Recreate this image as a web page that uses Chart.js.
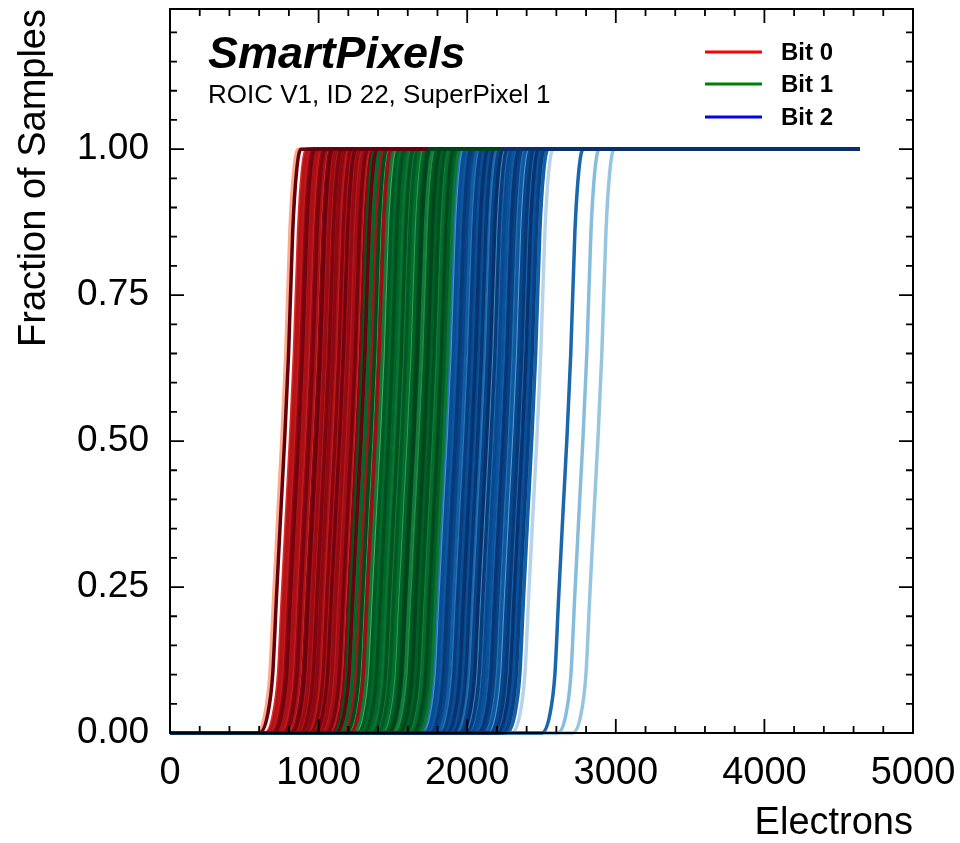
<!DOCTYPE html>
<html>
<head>
<meta charset="utf-8">
<script src="https://cdn.jsdelivr.net/npm/chart.js@4.4.1/dist/chart.umd.min.js"></script>
<style>
html, body { margin: 0; padding: 0; background: #fff; }
</style>
</head>
<body>
<canvas id="myChart" width="960" height="843"></canvas>
<script>
// --- data ---
var bitNames = ['Bit 0', 'Bit 1', 'Bit 2'];
// 50% points (electrons) of each pixel's s-curve, in drawing order
var bit0Thresholds = [752, 1010, 905, 1180, 860, 1090, 960, 1240, 830, 1120,
                      990, 880, 1296, 1050, 920, 1150, 810, 1210, 1030, 940,
                      1270, 870, 1100, 980, 1190, 840, 1060, 1130, 900, 1230,
                      1000, 820, 1160, 950, 1080, 1330, 890, 1040, 1200, 1380,
                      1015, 925, 1170, 855, 1070, 975, 1255, 1110, 1045, 935,
                      1220, 865, 1140, 985, 1285, 771];
var bit1Thresholds = [2405, 1500, 1700, 1397, 1810, 1600, 1768, 1320, 1550, 1740,
                      1420, 1650, 1280, 1830, 1480, 1590, 1360, 1720, 1520, 1260,
                      1680, 1440, 1790, 1570, 1340, 1620, 1460, 1760, 1300, 1540,
                      1660, 1400, 1840, 1510, 1700, 1380, 1580, 1780, 1450, 1310,
                      1490, 1610, 1730, 1820, 1430, 1560, 1690, 1270, 1530, 1750,
                      1470, 1630, 1350, 1800, 1710, 1640];
var bit2Thresholds = [2468, 2879, 2778, 2380, 1870, 2353, 1910, 2310, 2000, 2420,
                      1860, 2250, 1950, 2150, 2400, 2050, 1890, 2200, 2330, 1980,
                      2100, 2270, 1850, 2020, 2180, 2360, 1930, 2670, 2080, 2230,
                      2434, 1960, 2120, 2290, 1900, 2060, 2210, 2390, 2010, 1880,
                      2040, 2190, 2320, 1940, 2110, 2260, 2410, 1990, 2160, 2340,
                      1920, 2070, 2240, 2370, 2030, 2130];
// shape of one s-curve around its 50% point
var edgeOffsets   = [-170, -115, -80, -55, -27, 0, 27, 55, 80, 110];
var edgeFractions = [0, 0.03, 0.10, 0.23, 0.37, 0.5, 0.65, 0.86, 0.96, 1];
var scanStart = 0;
var scanEnd = 4640;
var xTicks = [0, 1000, 2000, 3000, 4000, 5000];
var yTicks = [0, 0.25, 0.5, 0.75, 1.0];

// colour maps (ColorBrewer Reds / Greens / Blues)
var cmaps = [
  ['#fff5f0','#fee0d2','#fcbba1','#fc9272','#fb6a4a','#ef3b2c','#cb181d','#a50f15','#67000d'],
  ['#f7fcf5','#e5f5e0','#c7e9c0','#a1d99b','#74c476','#41ab5d','#238b45','#006d2c','#00441b'],
  ['#f7fbff','#deebf7','#c6dbef','#9ecae1','#6baed6','#4292c6','#2171b5','#08519c','#08306b']
];
var legendColors = ['#ff0000', '#008000', '#0000ff'];

function hexToRgb(h) {
  return [parseInt(h.substr(1,2),16), parseInt(h.substr(3,2),16), parseInt(h.substr(5,2),16)];
}
function cmapColor(stops, t) {
  var p = t * (stops.length - 1);
  var i = Math.min(Math.floor(p), stops.length - 2);
  var f = p - i;
  var a = hexToRgb(stops[i]), b = hexToRgb(stops[i+1]);
  var c = a.map(function(v, k){ return Math.round(v + (b[k] - v) * f); });
  return 'rgb(' + c.join(',') + ')';
}
function curve(th) {
  var pts = [{x: scanStart, y: 0}];
  for (var k = 0; k < edgeOffsets.length; k++) {
    pts.push({x: th + edgeOffsets[k], y: edgeFractions[k]});
  }
  pts.push({x: scanEnd, y: 1});
  return pts;
}

var allThresholds = [bit0Thresholds, bit1Thresholds, bit2Thresholds];
var datasets = [];
var n = bit0Thresholds.length;
for (var i = 0; i < n; i++) {
  for (var b = 0; b < 3; b++) {
    var list = allThresholds[b];
    if (i >= list.length) continue;
    var t = 0.3 + 0.7 * Math.sqrt(i / (list.length - 1));
    datasets.push({
      label: bitNames[b],
      data: curve(list[i]),
      borderColor: cmapColor(cmaps[b], t),
      borderWidth: 3.5,
      pointRadius: 0,
      fill: false,
      cubicInterpolationMode: 'monotone',
      clip: false
    });
  }
}
// Chart.js paints the first dataset on top, so reverse to keep the plotting order
datasets.reverse();

var FONT = "'Liberation Sans', Arial, sans-serif";

var overlay = {
  id: 'overlay',
  afterDatasetsDraw: function(chart) {
    var ctx = chart.ctx, a = chart.chartArea;
    var xs = chart.scales.x, ys = chart.scales.y;
    ctx.save();
    ctx.strokeStyle = '#000';
    ctx.lineWidth = 2;
    ctx.strokeRect(a.left, a.top, a.right - a.left, a.bottom - a.top);
    ctx.lineWidth = 1.8;
    ctx.beginPath();
    for (var v = 0; v <= 5000; v += 200) {
      var px = xs.getPixelForValue(v);
      var len = (v % 1000 === 0) ? 14 : 7;
      ctx.moveTo(px, a.bottom); ctx.lineTo(px, a.bottom - len);
      ctx.moveTo(px, a.top); ctx.lineTo(px, a.top + len);
    }
    for (var j = 0; j <= 24; j++) {
      var py = ys.getPixelForValue(j * 0.05);
      var l2 = (j % 5 === 0) ? 14 : 7;
      ctx.moveTo(a.left, py); ctx.lineTo(a.left + l2, py);
      ctx.moveTo(a.right, py); ctx.lineTo(a.right - l2, py);
    }
    ctx.stroke();

    // labels
    ctx.fillStyle = '#000';
    ctx.textBaseline = 'alphabetic';
    ctx.textAlign = 'left';
    ctx.font = "italic bold 45px " + FONT;
    ctx.fillText('SmartPixels', 208, 68);
    ctx.font = "26px " + FONT;
    ctx.fillText('ROIC V1, ID 22, SuperPixel 1', 208, 103);

    // legend
    var ly = [52, 84, 117];
    for (var k = 0; k < 3; k++) {
      ctx.strokeStyle = legendColors[k];
      ctx.lineWidth = 3;
      ctx.beginPath();
      ctx.moveTo(705, ly[k]); ctx.lineTo(762, ly[k]);
      ctx.stroke();
      ctx.fillStyle = '#000';
      ctx.font = "bold 24px " + FONT;
      ctx.textBaseline = 'middle';
      ctx.fillText(bitNames[k], 781, ly[k] + 1);
    }
    ctx.restore();
  }
};

function noPad(s) { s.paddingTop = 0; s.paddingBottom = 0; s.paddingLeft = 0; s.paddingRight = 0; }

var ctx = document.getElementById('myChart').getContext('2d');
var chart = new Chart(ctx, {
  type: 'line',
  data: { datasets: datasets },
  options: {
    responsive: false,
    animation: false,
    devicePixelRatio: 1,
    layout: { padding: { top: 9, right: 47, left: 0, bottom: 0 } },
    plugins: { legend: { display: false }, tooltip: { enabled: false } },
    scales: {
      x: {
        type: 'linear', min: 0, max: 5000,
        afterBuildTicks: function(s) { s.ticks = xTicks.map(function(v){ return {value: v}; }); },
        afterFit: function(s) { s.height = 110; noPad(s); },
        grid: { display: false, drawTicks: false },
        border: { display: false },
        ticks: { color: '#000', font: { family: FONT, size: 38 }, padding: 18, maxRotation: 0,
                 callback: function(v) { return String(v); } },
        title: { display: true, text: 'Electrons', align: 'end', color: '#000',
                 font: { family: FONT, size: 38, lineHeight: 1 }, padding: { top: 0, bottom: 0 } }
      },
      y: {
        type: 'linear', min: 0, max: 1.24,
        afterBuildTicks: function(s) { s.ticks = yTicks.map(function(v){ return {value: v}; }); },
        afterFit: function(s) { s.width = 170; noPad(s); },
        grid: { display: false, drawTicks: false },
        border: { display: false },
        ticks: { color: '#000', font: { family: FONT, size: 37 }, padding: 21,
                 callback: function(v) { return Number(v).toFixed(2); } },
        title: { display: true, text: 'Fraction of Samples', align: 'end', color: '#000',
                 font: { family: FONT, size: 38, lineHeight: 1 }, padding: { top: 16, bottom: 0 } }
      }
    }
  },
  plugins: [overlay]
});
</script>
</body>
</html>
